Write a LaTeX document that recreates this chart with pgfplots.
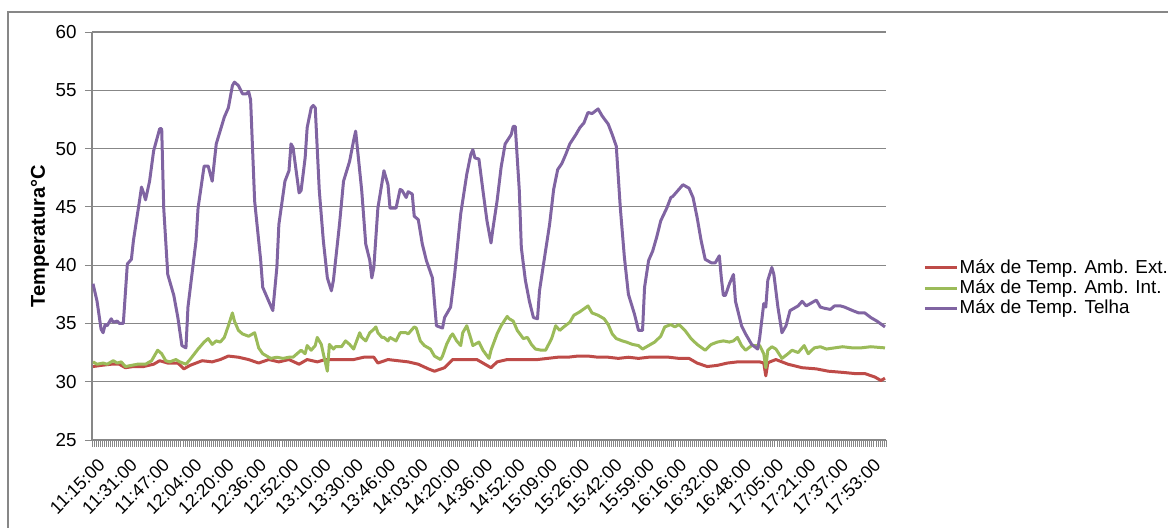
\documentclass[border=0pt]{standalone}
\usepackage{pgfplots}
\pgfplotsset{compat=1.18}
\usepackage{fontspec}
\setmainfont{Liberation Sans}
\definecolor{exred}{HTML}{BE4B48}
\definecolor{exgreen}{HTML}{9BBB59}
\definecolor{expurple}{HTML}{8064A2}
\definecolor{exgray}{HTML}{878787}
\begin{document}
\begin{tikzpicture}
\path[use as bounding box] (-46pt,-44pt) rectangle (538pt,220pt);
\draw[exgray, line width=0.6pt] (-42pt,-44pt) -- (-42pt,214pt) -- (538pt,214pt);
\begin{axis}[
  at={(0pt,0pt)}, anchor=south west,
  scale only axis, width=397pt, height=204pt,
  xmin=-0.5, xmax=392.5, ymin=25, ymax=60,
  axis lines*=left,
  axis line style={exgray, line width=0.6pt},
  ytick={25,30,...,60},
  minor ytick={25,30,...,60},
  xtick={0,16,...,384},
  minor xtick={-0.5,0.5,...,392.5},
  xticklabels={11:15:00,11:31:00,11:47:00,12:04:00,12:20:00,12:36:00,12:52:00,13:10:00,13:30:00,13:46:00,14:03:00,14:20:00,14:36:00,14:52:00,15:09:00,15:26:00,15:42:00,15:59:00,16:16:00,16:32:00,16:48:00,17:05:00,17:21:00,17:37:00,17:53:00},
  major tick length=0pt, minor tick length=3.5pt, tick align=outside,
  minor tick style={exgray, line width=0.4pt},
  ymajorgrids, grid style={exgray, line width=0.6pt},
  /pgf/number format/assume math mode=true,
  yticklabel style={font=\fontsize{9.4}{11}\selectfont, black, anchor=east, inner sep=0pt, xshift=-7.5pt},
  xticklabel style={font=\fontsize{9}{10}\selectfont, black, xshift=2pt, yshift=-8.5pt, rotate=45, anchor=north east, inner sep=0pt},
  ylabel={Temperatura°C},
  ylabel style={at={(axis description cs:-0.0655,0.5)}, anchor=center, font=\fontsize{10}{12}\selectfont\bfseries},
  legend style={draw=none, fill=none, at={(axis description cs:1.0466,0.3725)}, anchor=west, font=\fontsize{9.4}{11}\selectfont, row sep=0.4pt, inner sep=0pt, nodes={inner sep=0.6pt}},
  legend cell align=left,
  legend image code/.code={\draw[#1, line width=1.5pt] (0pt,0pt) -- (16pt,0pt);},
  line join=round,
]
\addplot[exred, line width=1.5pt] table {
x y
0 31.3
4 31.4
9 31.5
13 31.5
16 31.2
20 31.3
25 31.3
30 31.5
33 31.8
37 31.6
42 31.6
45 31.1
48 31.4
54 31.8
59 31.7
63 31.9
67 32.2
72 32.1
77 31.9
82 31.6
87 31.9
92 31.7
97 31.9
102 31.5
106 31.9
111 31.7
115 31.9
119 31.9
124 31.9
129 31.9
134 32.1
139 32.1
141 31.6
146 31.9
151 31.8
156 31.7
161 31.5
166 31.1
169 30.9
174 31.2
178 31.9
184 31.9
190 31.9
194 31.5
197 31.2
200 31.7
205 31.9
210 31.9
215 31.9
220 31.9
225 32.0
230 32.1
235 32.1
240 32.2
245 32.2
250 32.1
255 32.1
260 32.0
265 32.1
270 32.0
275 32.1
280 32.1
285 32.1
290 32.0
295 32.0
299 31.6
304 31.3
309 31.4
314 31.6
319 31.7
324 31.7
330 31.7
332 31.6
333 30.5
334 31.6
335 31.7
338 31.9
344 31.5
351 31.2
358 31.1
364 30.9
371 30.8
377 30.7
382 30.7
387 30.4
390 30.1
392 30.3
};
\addlegendentry{Máx de Temp. Amb. Ext.}
\addplot[exgreen, line width=1.5pt] table {
x y
0 31.7
2 31.5
5 31.6
7 31.5
10 31.8
12 31.6
14 31.7
16 31.3
19 31.4
22 31.5
26 31.5
29 31.8
32 32.7
34 32.4
36 31.8
38 31.7
41 31.9
43 31.7
46 31.5
48 31.9
52 32.8
55 33.4
57 33.7
59 33.2
61 33.5
63 33.4
65 33.8
67 34.8
69 35.9
70 35.2
72 34.4
74 34.1
77 33.9
79 34.1
80 34.2
82 32.9
84 32.4
88 32.0
91 32.1
94 32.0
97 32.1
99 32.1
101 32.4
103 32.7
105 32.4
106 33.1
108 32.7
110 33.1
111 33.8
113 33.2
114 32.4
116 30.9
117 33.2
119 32.8
120 33.0
123 33.0
125 33.5
127 33.2
129 32.8
132 34.2
133 33.8
135 33.5
137 34.2
139 34.5
140 34.7
141 34.2
143 33.8
144 33.8
146 33.5
147 33.8
150 33.5
152 34.2
155 34.2
156 34.1
159 34.7
160 34.6
162 33.5
164 33.1
167 32.8
169 32.2
172 31.9
173 32.2
175 33.2
177 33.9
178 34.1
180 33.5
182 33.1
183 34.2
185 34.8
187 33.7
188 33.1
191 33.4
193 32.7
196 32.0
197 32.7
200 34.1
202 34.8
205 35.6
206 35.4
208 35.2
210 34.4
213 33.7
215 33.8
217 33.2
219 32.8
222 32.7
224 32.7
227 33.7
229 34.8
231 34.4
233 34.7
236 35.1
238 35.7
241 36.0
245 36.5
247 35.9
250 35.7
253 35.4
255 34.9
257 34.1
259 33.7
262 33.5
264 33.4
267 33.2
270 33.1
272 32.8
276 33.2
278 33.4
281 33.9
283 34.7
286 34.9
288 34.7
290 34.9
293 34.4
296 33.7
299 33.2
303 32.7
306 33.2
309 33.4
312 33.5
315 33.4
317 33.5
319 33.8
321 33.1
323 32.7
326 33.1
330 33.1
332 32.4
333 31.2
334 32.7
336 33.0
338 32.8
341 32.0
344 32.4
346 32.7
349 32.5
352 33.1
354 32.4
357 32.9
360 33.0
363 32.8
367 32.9
371 33.0
376 32.9
380 32.9
385 33.0
392 32.9
};
\addlegendentry{Máx de Temp. Amb. Int.}
\addplot[expurple, line width=1.5pt] table {
x y
0 38.4
2 36.9
4 34.5
5 34.2
6 34.9
7 34.8
9 35.4
10 35.1
12 35.2
13 35.0
15 35.0
17 40.1
19 40.5
20 42.1
23 45.5
24 46.7
25 46.2
26 45.6
28 47.2
30 49.8
33 51.7
34 51.7
35 44.9
37 39.2
40 37.4
42 35.5
44 33.1
46 32.9
47 36.4
51 42.1
52 44.9
55 48.5
57 48.5
59 47.2
61 50.4
65 52.7
67 53.5
69 55.4
70 55.7
72 55.4
74 54.7
76 54.7
77 54.9
78 54.2
80 45.5
83 40.4
84 38.1
87 36.9
89 36.1
91 39.8
92 43.5
95 47.2
97 48.1
98 50.4
99 50.1
102 46.2
103 46.4
105 49.2
106 51.8
108 53.5
109 53.7
110 53.5
112 46.4
114 42.1
116 38.9
118 37.8
119 38.7
122 43.5
124 47.2
127 48.9
129 50.7
130 51.5
133 46.4
135 41.8
137 40.4
138 38.9
139 39.8
141 44.9
144 48.1
146 46.9
147 44.9
150 44.9
152 46.5
153 46.4
155 45.8
156 46.3
158 46.1
159 44.2
161 43.9
163 41.8
165 40.4
168 38.9
170 34.8
173 34.6
174 35.5
177 36.4
179 39.2
182 44.4
185 47.8
187 49.5
188 49.9
189 49.2
191 49.1
193 46.4
195 43.8
197 41.9
198 43.2
200 45.5
202 48.4
204 50.4
207 51.2
208 51.9
209 51.9
211 46.4
212 41.5
214 38.7
216 36.9
218 35.5
220 35.4
221 37.8
223 40.1
226 43.5
228 46.5
230 48.2
232 48.7
234 49.5
236 50.4
239 51.2
241 51.8
243 52.2
245 53.1
247 53.0
250 53.4
252 52.8
255 52.1
257 51.2
259 50.2
261 44.9
263 40.7
265 37.5
268 35.8
270 34.4
272 34.4
273 38.1
275 40.4
277 41.2
279 42.4
281 43.8
284 44.9
286 45.8
287 45.9
290 46.5
292 46.9
295 46.6
297 45.8
299 44.1
301 42.1
303 40.5
304 40.4
306 40.2
308 40.2
310 40.8
311 38.9
312 37.4
313 37.4
315 38.4
317 39.2
318 36.9
321 34.8
323 34.1
326 33.2
329 32.8
330 33.8
332 36.7
333 36.4
334 38.7
336 39.8
337 39.2
339 36.4
341 34.2
343 34.8
345 36.1
349 36.5
351 36.9
353 36.5
356 36.8
358 37.0
360 36.4
362 36.3
365 36.2
367 36.5
370 36.5
372 36.4
376 36.1
379 35.9
382 35.9
385 35.5
388 35.2
392 34.7
};
\addlegendentry{Máx de Temp. Telha}
\end{axis}
\end{tikzpicture}
\end{document}
